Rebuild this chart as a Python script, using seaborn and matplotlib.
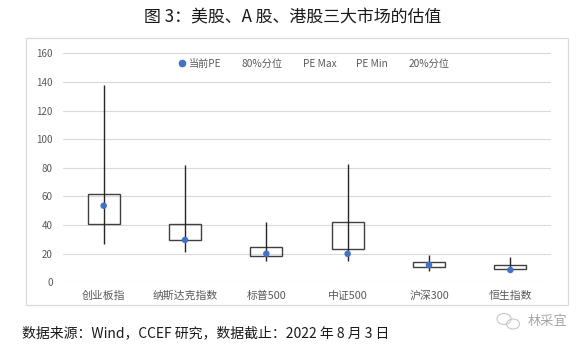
import matplotlib
matplotlib.use("Agg")
import matplotlib.pyplot as plt
import seaborn as sns
import pandas as pd
from matplotlib.lines import Line2D
from matplotlib.patches import Rectangle, Ellipse

# PE valuation summary per index
categories = ["创业板指", "纳斯达克指数", "标普500", "中证500", "沪深300", "恒生指数"]
pe_current = [53.5, 29.6, 20.0, 19.9, 12.1, 8.6]
pe_p80 = [62.0, 40.5, 24.5, 42.0, 14.0, 11.9]
pe_max = [138.0, 82.0, 42.0, 83.0, 19.0, 18.0]
pe_min = [27.0, 21.0, 14.7, 15.0, 8.1, 8.3]
pe_p20 = [41.0, 29.3, 18.2, 23.0, 10.5, 9.1]
y_ticks = [0, 20, 40, 60, 80, 100, 120, 140, 160]
legend_labels = ["当前PE", "80%分位", "PE Max", "PE Min", "20%分位"]

title_text = "图 3：美股、A 股、港股三大市场的估值"
source_text = "数据来源：Wind，CCEF 研究，数据截止：2022 年 8 月 3 日"
mark_text = "林采宜"

sns.set_theme(style="white")
plt.rcParams["font.family"] = ["Noto Sans CJK SC", "DejaVu Sans"]

df = pd.DataFrame({
    "index": categories,
    "pos": range(len(categories)),
    "current": pe_current,
    "p80": pe_p80,
    "p20": pe_p20,
    "max": pe_max,
    "min": pe_min,
})

W, H = 587, 350
fig = plt.figure(figsize=(W / 100, H / 100), dpi=100)
fig.patch.set_facecolor("white")

ax = fig.add_axes([63 / W, (H - 282.3) / H, 488 / W, 229 / H])

# 20%-80% percentile boxes
ax.bar(df["pos"], df["p80"] - df["p20"], bottom=df["p20"], width=0.39,
       fill=False, edgecolor="#404040", linewidth=1.0, zorder=2)
# min-max range lines
ax.vlines(df["pos"], df["min"], df["max"], color="#262626", linewidth=1.0, zorder=3)
# current PE
sns.scatterplot(data=df, x="pos", y="current", ax=ax, color="#4472C4",
                s=22, edgecolor="none", zorder=4, legend=False)

ax.set_xlim(-0.5, len(categories) - 0.5)
ax.set_ylim(0, 160)
ax.set_yticks(y_ticks)
ax.set_xticks(list(df["pos"]))
ax.set_xticklabels(categories)
ax.set_xlabel("")
ax.set_ylabel("")
ax.grid(axis="y", color="#d9d9d9", linewidth=0.8)
ax.set_axisbelow(True)
for s in ax.spines.values():
    s.set_visible(False)
ax.tick_params(axis="y", length=0, pad=7.5, labelsize=7, labelcolor="#595959")
ax.tick_params(axis="x", length=0, pad=12, labelsize=7.8, labelcolor="#595959")
for lab in ax.get_xticklabels():
    lab.set_verticalalignment("baseline")

handles = [Line2D([], [], marker="o", linestyle="none", color="#4472C4", markersize=4.5)]
handles += [Line2D([], [], linestyle="none") for _ in legend_labels[1:]]
ax.legend(handles, legend_labels, ncol=5, frameon=False, loc="center",
          bbox_to_anchor=(0.514, 0.955), fontsize=7.3, labelcolor="#595959",
          handlelength=0.7, handletextpad=0.3, columnspacing=1.0)

# chart frame
fig.patches.append(Rectangle((26.3 / W, (H - 305) / H), (568.3 - 26.3) / W, (305 - 38.3) / H,
                             transform=fig.transFigure, fill=False,
                             edgecolor="#d9d9d9", linewidth=0.9))

fig.text(293 / W, 1 - 17 / H, title_text, ha="center", va="center", fontsize=12.2, color="#1a1a1a")
fig.text(22 / W, 1 - 333 / H, source_text, ha="left", va="center", fontsize=10, color="#1a1a1a")

# watermark
fig.patches.append(Ellipse((504 / W, 1 - 319 / H), 14 / W, 11 / H, transform=fig.transFigure,
                           fill=False, edgecolor="#c8c8c8", linewidth=0.8))
fig.patches.append(Ellipse((513 / W, 1 - 324 / H), 13 / W, 10 / H, transform=fig.transFigure,
                           fill=False, edgecolor="#c8c8c8", linewidth=0.8))
fig.text(547 / W, 1 - 322 / H, mark_text, ha="center", va="center", fontsize=9.5, color="#a6a6a6")

fig.savefig("out.png", dpi=100)
